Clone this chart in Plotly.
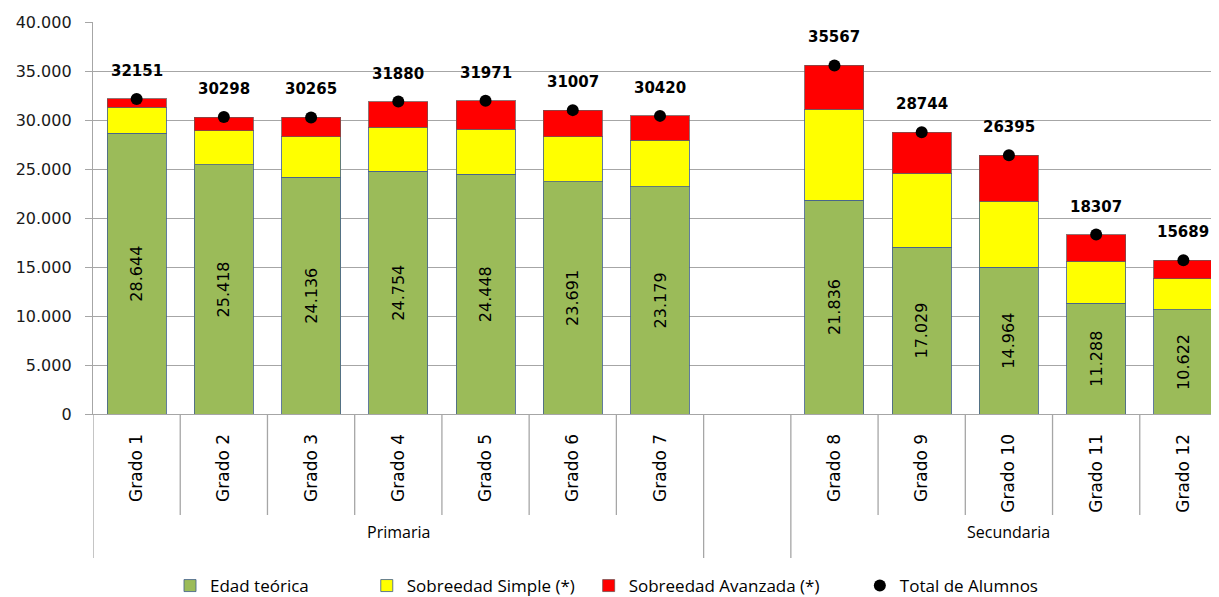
import plotly.graph_objects as go

# ---- data ----
categorias = ["Grado 1", "Grado 2", "Grado 3", "Grado 4", "Grado 5", "Grado 6", "Grado 7",
              " ",
              "Grado 8", "Grado 9", "Grado 10", "Grado 11", "Grado 12"]
edad_teorica = [28644, 25418, 24136, 24754, 24448, 23691, 23179, None,
                21836, 17029, 14964, 11288, 10622]
sobreedad_simple = [2656, 3480, 4160, 4500, 4600, 4610, 4780, None,
                    9260, 7530, 6740, 4310, 3180]
sobreedad_avanzada = [851, 1400, 1969, 2626, 2923, 2706, 2461, None,
                      4471, 4185, 4691, 2709, 1887]
total_alumnos = [32151, 30298, 30265, 31880, 31971, 31007, 30420, None,
                 35567, 28744, 26395, 18307, 15689]
grupos = ["Primaria", "Secundaria"]
grupo_miembros = [categorias[0:7], categorias[8:13]]
y_ticks = [0, 5000, 10000, 15000, 20000, 25000, 30000, 35000, 40000]

GRID = "#A6A6A6"
EDGE = "rgba(70,100,140,0.85)"
NB = "\u00a0"
OFF = 8  # page body margin offset
PLOT_L, PLOT_T, PLOT_H = 93 - OFF, 22 - OFF, 392
PLOT_W = 1219 - PLOT_L
fig = go.Figure()

fig.add_trace(go.Bar(
    x=categorias, y=edad_teorica, name="Edad teórica" + NB * 12,
    marker=dict(color="#9BBB59", line=dict(color=EDGE, width=1)),
    text=[f"{v:,}".replace(",", ".") if v is not None else "" for v in edad_teorica],
    textposition="inside", insidetextanchor="middle", textangle=-90,
    constraintext="none",
    textfont=dict(family="DejaVu Sans", size=16, color="#000000"),
    hoverinfo="skip"))
fig.add_trace(go.Bar(
    x=categorias, y=sobreedad_simple, name="Sobreedad Simple (*)" + NB * 2,
    marker=dict(color="#FFFF00", line=dict(color=EDGE, width=1)),
    hoverinfo="skip"))
fig.add_trace(go.Bar(
    x=categorias, y=sobreedad_avanzada, name="Sobreedad Avanzada (*)" + NB * 8,
    marker=dict(color="#FF0000", line=dict(color="rgba(120,80,80,0.8)", width=1)),
    hoverinfo="skip"))
fig.add_trace(go.Scatter(
    x=categorias, y=total_alumnos, name="Total de Alumnos", mode="markers",
    marker=dict(color="#000000", size=12), hoverinfo="skip"))

# bold total labels above the dots
for c, t in zip(categorias, total_alumnos):
    if t is None:
        continue
    fig.add_annotation(x=c, y=t, xref="x", yref="y", text=f"<b>{t}</b>",
                       showarrow=False, yshift=28,
                       font=dict(family="DejaVu Sans", size=15, color="#000000"))

# category separators (short) and group separators (long)
n = len(categorias)
short_y = -(515 - 414) / PLOT_H
long_y = -(558 - 414) / PLOT_H
group_bounds = [-0.5, 6.5, 7.5, 12.5]
for i in range(n - 1):
    b = i + 0.5
    if b in group_bounds:
        continue
    fig.add_shape(type="line", xref="x", yref="paper", x0=b, x1=b, y0=0, y1=short_y,
                  line=dict(color=GRID, width=1.3))
for b in group_bounds:
    fig.add_shape(type="line", xref="x", yref="paper", x0=b, x1=b, y0=0, y1=long_y,
                  line=dict(color=GRID, width=1.3))

# group labels
for g, miembros in zip(grupos, grupo_miembros):
    idx = [categorias.index(m) for m in miembros]
    fig.add_annotation(x=(idx[0] + idx[-1]) / 2, xref="x", y=-(545 - 414) / PLOT_H, yref="paper",
                       text=g, showarrow=False,
                       font=dict(family="Open Sans", size=16, color="#000000"))

fig.update_layout(
    width=1219, height=597,
    margin=dict(l=PLOT_L, r=0, t=PLOT_T, b=597 - PLOT_T - PLOT_H, autoexpand=False),
    paper_bgcolor="white", plot_bgcolor="white",
    barmode="stack", bargap=0.324,
    separators=",.",
    showlegend=True,
    legend=dict(orientation="h", x=(170 - 93) / PLOT_W, xanchor="left",
                y=-(586 - 414) / PLOT_H, yanchor="middle", traceorder="normal",
                font=dict(family="Open Sans", size=17, color="#000000")),
    xaxis=dict(type="category", categoryorder="array", categoryarray=categorias,
               range=[-0.5, 12.5], showline=True, linecolor=GRID, linewidth=1.3,
               showgrid=False, ticks="outside", ticklen=12, tickcolor="rgba(0,0,0,0)",
               automargin=False,
               tickangle=-90, tickfont=dict(family="DejaVu Sans", size=17, color="#000000")),
    yaxis=dict(range=[0, 40000], tickvals=y_ticks, tickformat=",d",
               showgrid=True, gridcolor=GRID, gridwidth=1.3, zeroline=False,
               showline=True, linecolor=GRID, linewidth=1.3,
               ticks="outside", ticklen=7, tickcolor=GRID, automargin=False,
               ticklabelstandoff=10,
               tickfont=dict(family="DejaVu Sans", size=16, color="#1a1a1a")),
)

fig.write_html("out.html")
